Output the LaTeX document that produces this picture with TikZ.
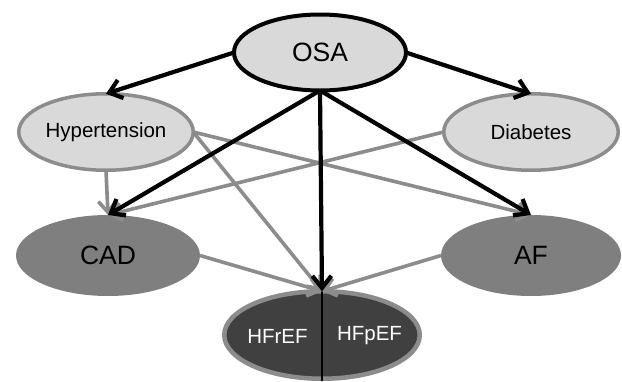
\documentclass[tikz,border=0pt]{standalone}
\usepackage{fontspec}
\setmainfont{Liberation Sans}
\usetikzlibrary{shapes.geometric,arrows.meta}
\definecolor{lightfill}{HTML}{D9D9D9}
\definecolor{midgray}{HTML}{7F7F7F}
\definecolor{bordergray}{HTML}{8C8C8C}
\definecolor{darkfill}{HTML}{404040}
\begin{document}
\begin{tikzpicture}[x=1pt,y=-1pt,
  ell/.style={ellipse, inner sep=0pt, outer sep=0pt},
  topnode/.style={ell, draw=black, line width=4pt, fill=lightfill},
  risknode/.style={ell, draw=bordergray, line width=3.5pt, fill=lightfill},
  disnode/.style={ell, fill=midgray},
  hfnode/.style={ell, draw=bordergray, line width=4.5pt, fill=darkfill},
  bigfont/.style={font=\fontsize{26.5}{30}\selectfont},
  smallfont/.style={font=\fontsize{20.5}{24}\selectfont},
  blackarrow/.style={draw=black, line width=4.2pt, -{Straight Barb[length=12pt,width=19pt]}},
  grayarrow/.style={draw=bordergray, line width=3.6pt, -{Straight Barb[length=11pt,width=18pt]}},
]
\useasboundingbox (0,0) rectangle (622,381);
\node[topnode, bigfont, minimum width=172pt, minimum height=76pt] (osa) at (320,52.5) {OSA};
\node[risknode, smallfont, minimum width=174.5pt, minimum height=76.5pt] (hyp) at (106,132) {Hypertension};
\node[risknode, smallfont, minimum width=174.5pt, minimum height=76.5pt] (dia) at (531,132) {Diabetes};
\node[disnode, bigfont, minimum width=184pt, minimum height=81pt] (cad) at (108,255.5) {CAD};
\node[disnode, bigfont, minimum width=180pt, minimum height=81pt] (af) at (531,255.5) {AF};
\node[hfnode, minimum width=195.5pt, minimum height=87.5pt] (hf) at (322,335) {};
\node[smallfont, text=white] (hfr) at (277.5,336) {HFrEF};
\node[smallfont, text=white] (hfp) at (369.5,336) {HFpEF};
\coordinate (hfbottom) at (322,381);
\draw[line width=1.6pt] (hf.north) -- (hfbottom);
% gray arrows
\draw[grayarrow] (hyp.south) -- (cad.north);
\draw[grayarrow] (hyp.east) -- (af.north);
\draw[grayarrow] (hyp.east) -- (hf.north);
\draw[grayarrow] (dia.west) -- (cad.north);
\draw[grayarrow] (cad.east) -- (hf.north);
\draw[grayarrow] (af.west) -- (hf.north);
% black arrows
\draw[blackarrow] (osa.west) -- (hyp.north);
\draw[blackarrow] (osa.east) -- (dia.north);
\draw[blackarrow] (osa.south) -- (cad.north);
\draw[blackarrow] (osa.south) -- (af.north);
\draw[blackarrow] (osa.south) -- (hf.north);
\end{tikzpicture}
\end{document}
